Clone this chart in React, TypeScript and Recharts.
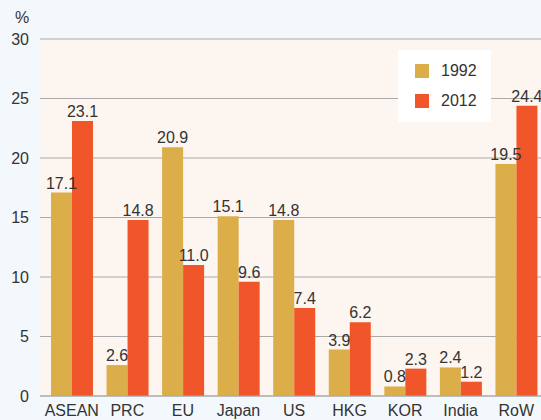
import { BarChart, Bar, XAxis, YAxis, CartesianGrid, LabelList } from "recharts";

const REGIONS = ["ASEAN", "PRC", "EU", "Japan", "US", "HKG", "KOR", "India", "RoW"];
const SHARE_1992 = [17.1, 2.6, 20.9, 15.1, 14.8, 3.9, 0.8, 2.4, 19.5];
const SHARE_2012 = [23.1, 14.8, 11.0, 9.6, 7.4, 6.2, 2.3, 1.2, 24.4];
const Y_TICKS = [0, 5, 10, 15, 20, 25, 30];

const data = REGIONS.map((region, i) => ({
  region,
  y1992: SHARE_1992[i],
  y2012: SHARE_2012[i],
}));

const FONT = "'Liberation Sans', Arial, sans-serif";
const TEXT = "#333333";
const GOLD = "#dcae4a";
const ORANGE = "#f0562a";

function LegendBox() {
  const items = [
    { label: "1992", color: GOLD },
    { label: "2012", color: ORANGE },
  ];
  return (
    <div
      style={{
        position: "absolute",
        left: 398,
        top: 50,
        background: "#ffffff",
        width: 93,
        height: 72,
        padding: "6px 0 0 17px",
        boxSizing: "border-box",
      }}
    >
      {items.map((it) => (
        <div key={it.label} style={{ display: "flex", alignItems: "center", height: 30 }}>
          <div style={{ width: 14, height: 14, background: it.color, marginRight: 12 }} />
          <span style={{ fontFamily: FONT, fontSize: 16, color: TEXT }}>{it.label}</span>
        </div>
      ))}
    </div>
  );
}

export default function App() {
  return (
    <div style={{ position: "absolute", left: 0, top: 0, width: 541, height: 420, overflow: "hidden", background: "#f3f8fc" }}>
      <BarChart
        width={544}
        height={420}
        data={data}
        margin={{ top: 39, right: 0, bottom: 2, left: 0 }}
        barCategoryGap={7}
        barGap={0}
      >
        <CartesianGrid vertical={false} stroke="#aaaaaa" fill="#fdf5ef" />
        <XAxis
          dataKey="region"
          padding={{ left: 4, right: 0 }}
          stroke="#aaaaaa"
          tickLine={false}
          tick={{ fill: TEXT, fontSize: 16, fontFamily: FONT }}
          interval={0}
          height={22}
          tickMargin={3}
        />
        <YAxis
          domain={[0, 30]}
          ticks={Y_TICKS}
          width={40}
          axisLine={false}
          tickLine={false}
          tick={{ fill: TEXT, fontSize: 16, fontFamily: FONT }}
          tickMargin={5}
          label={{ value: "%", position: "top", offset: 16, dx: 2, fill: TEXT, fontSize: 16, fontFamily: FONT }}
        />
        <Bar dataKey="y1992" name="1992" fill={GOLD} isAnimationActive={false}>
          <LabelList dataKey="y1992" position="top" offset={4} formatter={(v: number) => v.toFixed(1)} style={{ fill: TEXT, fontSize: 16, fontFamily: FONT }} />
        </Bar>
        <Bar dataKey="y2012" name="2012" fill={ORANGE} isAnimationActive={false}>
          <LabelList dataKey="y2012" position="top" offset={4} formatter={(v: number) => v.toFixed(1)} style={{ fill: TEXT, fontSize: 16, fontFamily: FONT }} />
        </Bar>
      </BarChart>
      <LegendBox />
    </div>
  );
}
